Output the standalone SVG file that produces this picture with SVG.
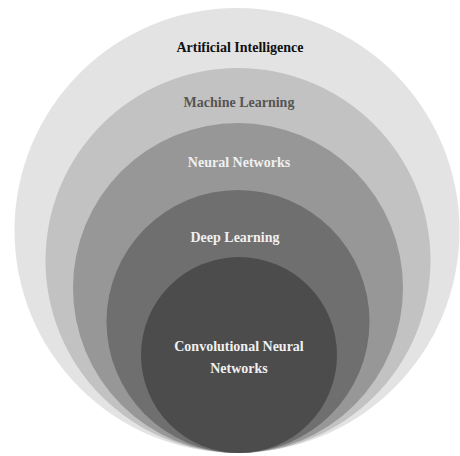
<svg xmlns="http://www.w3.org/2000/svg" width="460" height="456" viewBox="0 0 460 456">
  <style>
    text { font-family: "Liberation Serif", "Times New Roman", serif; font-weight: bold; font-size: 14px; text-anchor: middle; }
    .dark { fill: #111111; }
    .mid { fill: #555555; }
    .light { fill: #f0f0f0; }
  </style>
  <rect width="460" height="456" fill="#ffffff"/>
  <!-- nested layers, all touching at the bottom -->
  <g id="artificial-intelligence">
    <circle cx="237" cy="230.5" r="222.5" fill="#e3e3e3"/>
    <text class="dark" x="240" y="52">Artificial Intelligence</text>
  </g>
  <g id="machine-learning">
    <circle cx="238" cy="260.5" r="192.5" fill="#c2c2c2"/>
    <text class="mid" x="239" y="107">Machine Learning</text>
  </g>
  <g id="neural-networks">
    <circle cx="238" cy="288" r="165" fill="#979797"/>
    <text class="light" x="239" y="167">Neural Networks</text>
  </g>
  <g id="deep-learning">
    <circle cx="238" cy="321.5" r="131.5" fill="#6f6f6f"/>
    <text class="light" x="235" y="242">Deep Learning</text>
  </g>
  <g id="convolutional-neural-networks">
    <circle cx="239" cy="355" r="98" fill="#4c4c4c"/>
    <text class="light" x="239" y="351">Convolutional Neural</text>
    <text class="light" x="239" y="373">Networks</text>
  </g>
  <g id="connectors"/>
</svg>
